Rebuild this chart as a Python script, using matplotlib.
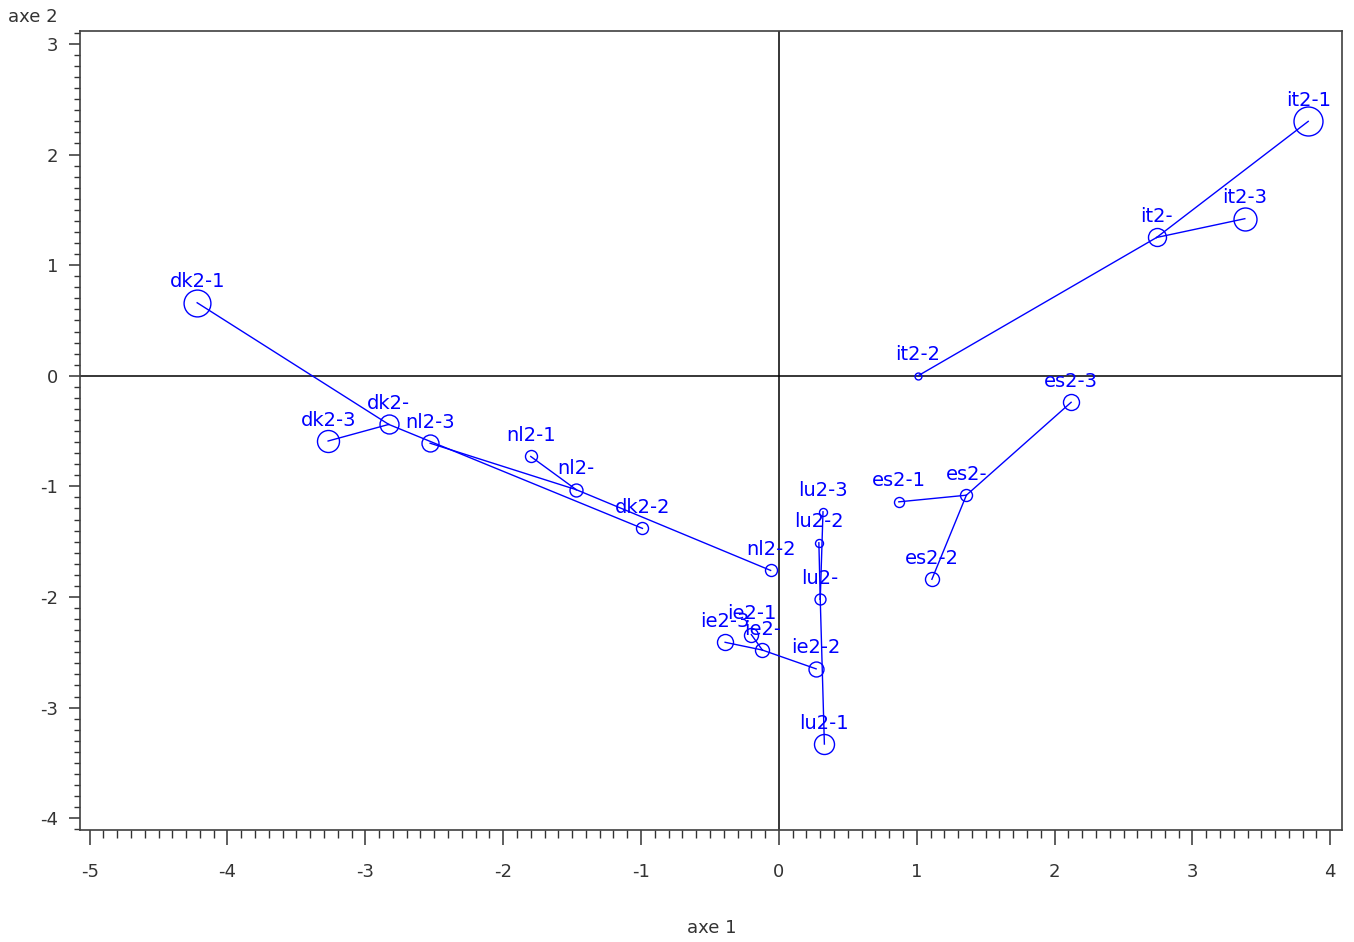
import matplotlib
matplotlib.use("Agg")
import matplotlib.pyplot as plt
from matplotlib.ticker import MultipleLocator
import numpy as np

# ---- data -------------------------------------------------------------
groups = ["dk", "nl", "it", "es", "lu", "ie"]

# centroid (label "xx2-") and the three modalities xx2-1, xx2-2, xx2-3
centre_x = [-2.83, -1.47, 2.74, 1.36, 0.30, -0.12]
centre_y = [-0.44, -1.03, 1.25, -1.08, -2.02, -2.48]
centre_w = [0.90, 0.42, 0.81, 0.36, 0.30, 0.49]

p1_x = [-4.22, -1.80, 3.84, 0.87, 0.33, -0.20]
p1_y = [0.66, -0.73, 2.30, -1.14, -3.33, -2.34]
p1_w = [1.80, 0.36, 2.10, 0.25, 1.00, 0.49]

p2_x = [-0.99, -0.06, 1.01, 1.11, 0.29, 0.27]
p2_y = [-1.38, -1.76, 0.00, -1.84, -1.51, -2.65]
p2_w = [0.36, 0.36, 0.12, 0.49, 0.16, 0.56]

p3_x = [-3.27, -2.53, 3.38, 2.12, 0.32, -0.39]
p3_y = [-0.59, -0.61, 1.42, -0.24, -1.23, -2.41]
p3_w = [1.21, 0.72, 1.32, 0.64, 0.16, 0.64]

x_ticks = [-5, -4, -3, -2, -1, 0, 1, 2, 3, 4]
y_ticks = [-4, -3, -2, -1, 0, 1, 2, 3]

# ---- figure -------------------------------------------------------------
DPI = 100
fig = plt.figure(figsize=(13.54, 9.42), dpi=DPI)
ax = fig.add_axes([80 / 1354, 1 - 830 / 942, (1342 - 80) / 1354, (830 - 31) / 942])

BLUE = "#0000ff"
FONT = "DejaVu Sans"

ax.axhline(0, color="black", lw=1.1, zorder=1)
ax.axvline(0, color="black", lw=1.1, zorder=1)

def msize(w):
    # marker diameter in points from weight (radius ~ 10 px * sqrt(w))
    return 2 * 10 * np.sqrt(w) * 72 / DPI

label_off = 21 * 72 / DPI

for i, g in enumerate(groups):
    cx, cy = centre_x[i], centre_y[i]
    pts = [(p1_x[i], p1_y[i], p1_w[i], f"{g}2-1"),
           (p2_x[i], p2_y[i], p2_w[i], f"{g}2-2"),
           (p3_x[i], p3_y[i], p3_w[i], f"{g}2-3")]
    for (x, y, w, lab) in pts:
        ax.plot([cx, x], [cy, y], color=BLUE, lw=1.0, zorder=2)
    for (x, y, w, lab) in pts + [(cx, cy, centre_w[i], f"{g}2-")]:
        ax.plot([x], [y], marker="o", ms=msize(w), mfc="none", mec=BLUE,
                mew=1.0, zorder=3)
        ax.annotate(lab, (x, y), xytext=(0, label_off), textcoords="offset points",
                    ha="center", va="center", color=BLUE, fontsize=14,
                    family=FONT, zorder=4)

ax.set_xlim(-5.07, 4.085)
ax.set_ylim(-4.107, 3.117)

ax.set_xticks(x_ticks)
ax.set_yticks(y_ticks)
ax.set_xticklabels([str(t) for t in x_ticks], family=FONT, fontsize=13, color="#333333")
ax.set_yticklabels([str(t) for t in y_ticks], family=FONT, fontsize=13, color="#333333")
ax.xaxis.set_minor_locator(MultipleLocator(0.1))
ax.yaxis.set_minor_locator(MultipleLocator(0.1))

ax.tick_params(axis="x", which="major", direction="out", length=10.8, width=1.1,
               color="#333333", pad=13)
ax.tick_params(axis="x", which="minor", direction="out", length=5.8, width=1.0,
               color="#333333")
ax.tick_params(axis="y", which="major", direction="out", length=7.9, width=1.1,
               color="#333333", pad=8)
ax.tick_params(axis="y", which="minor", direction="out", length=4.3, width=1.0,
               color="#333333")

for sp in ax.spines.values():
    sp.set_color("#404040")
    sp.set_linewidth(1.2)

fig.text(712 / 1354, 1 - 928 / 942, "axe 1", ha="center", va="center",
         family=FONT, fontsize=13, color="#333333")
fig.text(33 / 1354, 1 - 17 / 942, "axe 2", ha="center", va="center",
         family=FONT, fontsize=13, color="#333333")

fig.savefig("out.png", dpi=DPI)
